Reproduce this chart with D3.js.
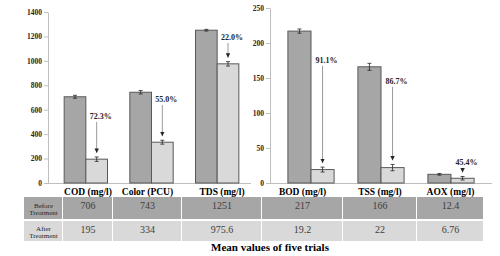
<!DOCTYPE html>
<html>
<head>
<meta charset="utf-8">
<script src="https://cdn.jsdelivr.net/npm/d3@7"></script>
<style>
  html, body { margin: 0; padding: 0; background: #fff; }
  svg { display: block; }
</style>
</head>
<body>
<div id="chart"></div>
<script>
const categories = ["COD (mg/l)", "Color (PCU)", "TDS (mg/l)", "BOD (mg/l)", "TSS (mg/l)", "AOX (mg/l)"];
const beforeValues = [706, 743, 1251, 217, 166, 12.4];
const afterValues = [195, 334, 975.6, 19.2, 22, 6.76];
const beforeErrors = [12, 14, 7, 3, 5, 1.2];
const afterErrors = [18, 16, 18, 3.5, 4.5, 2.5];
const reductions = ["72.3%", "55.0%", "22.0%", "91.1%", "86.7%", "45.4%"];
// where each percentage label sits, in the panel's own units
const labelLevels = [549, 688, 1196, 176, 146, 30];
const leftTicks = [0, 200, 400, 600, 800, 1000, 1200, 1400];
const rightTicks = [0, 50, 100, 150, 200, 250];
const beforeCells = ["706", "743", "1251", "217", "166", "12.4"];
const afterCells = ["195", "334", "975.6", "19.2", "22", "6.76"];
const rowLabels = [["Before", "Treatment"], ["After", "Treatment"]];
const tableEdges = [24, 63, 113, 182, 262, 343, 417, 484];

const width = 500;
const height = 256;
const serif = "'Liberation Serif', 'Times New Roman', serif";
const darkFill = "#a6a6a6";
const lightFill = "#d9d9d9";
const barStroke = "#595959";

const svg = d3.select("#chart").append("svg")
  .attr("width", width)
  .attr("height", height);

svg.append("defs").append("marker")
  .attr("id", "head")
  .attr("viewBox", "0 0 10 10")
  .attr("refX", 10)
  .attr("refY", 5)
  .attr("markerWidth", 4.5)
  .attr("markerHeight", 4.5)
  .attr("markerUnits", "userSpaceOnUse")
  .attr("orient", "auto")
  .append("path")
  .attr("d", "M0,0L10,5L0,10Z")
  .attr("fill", "#262626");

const panels = [
  { idx: [0, 1, 2], ticks: leftTicks, topY: 12, axisX: 48, xRange: [53, 250], axisEnd: 251 },
  { idx: [3, 4, 5], ticks: rightTicks, topY: 8, axisX: 270, xRange: [276, 486], axisEnd: 492 }
];
const baseY = 183;

panels.forEach((panel) => {
  const y = d3.scaleLinear().domain([0, d3.max(panel.ticks)]).range([baseY, panel.topY]);
  const x = d3.scaleBand()
    .domain(panel.idx)
    .range(panel.xRange)
    .paddingInner(0.34)
    .paddingOuter(0.17);
  const sub = d3.scaleBand().domain(["before", "after"]).range([0, x.bandwidth()]);

  const axis = svg.append("g")
    .attr("transform", `translate(${panel.axisX},0)`)
    .call(d3.axisLeft(y).tickValues(panel.ticks).tickFormat(d3.format("d"))
      .tickSize(4).tickPadding(2).tickSizeOuter(0));
  axis.select(".domain").attr("stroke", "#bfbfbf");
  axis.selectAll(".tick line").attr("stroke", "#bfbfbf");
  axis.selectAll("text")
    .attr("fill", "#262626")
    .style("font-family", serif)
    .style("font-weight", "bold")
    .style("font-size", "7.5px");

  svg.append("line")
    .attr("x1", panel.axisX).attr("x2", panel.axisEnd)
    .attr("y1", baseY + 0.5).attr("y2", baseY + 0.5)
    .attr("stroke", "#bfbfbf");

  panel.idx.forEach((i) => {
    const groupX = x(i);
    [["before", beforeValues[i], beforeErrors[i], darkFill], ["after", afterValues[i], afterErrors[i], lightFill]]
      .forEach(([key, value, err, fill]) => {
        const bx = groupX + sub(key);
        svg.append("rect")
          .attr("x", bx)
          .attr("y", y(value))
          .attr("width", sub.bandwidth())
          .attr("height", baseY - y(value))
          .attr("fill", fill)
          .attr("stroke", barStroke)
          .attr("stroke-width", 1);
        const cx = bx + sub.bandwidth() / 2;
        const e = svg.append("g").attr("stroke", "#262626").attr("stroke-width", 0.8);
        e.append("line").attr("x1", cx).attr("x2", cx).attr("y1", y(value + err)).attr("y2", y(value - err));
        e.append("line").attr("x1", cx - 2).attr("x2", cx + 2).attr("y1", y(value + err)).attr("y2", y(value + err));
        e.append("line").attr("x1", cx - 2).attr("x2", cx + 2).attr("y1", y(value - err)).attr("y2", y(value - err));
      });

    const ax = groupX + sub("after") + sub.bandwidth() / 2;
    const labelY = y(labelLevels[i]);
    svg.append("text")
      .attr("x", ax + 4)
      .attr("y", labelY + 3)
      .attr("text-anchor", "middle")
      .attr("fill", "#262626")
      .style("font-family", serif)
      .style("font-weight", "bold")
      .style("font-size", "8px")
      .text(reductions[i]);
    svg.append("line")
      .attr("x1", ax).attr("x2", ax)
      .attr("y1", labelY + 6)
      .attr("y2", y(afterValues[i] + afterErrors[i]) - 4)
      .attr("stroke", "#7f7f7f")
      .attr("stroke-width", 0.8)
      .attr("marker-end", "url(#head)");
  });
});

// table under the bars
const rows = [
  { top: 197, bottom: 219, fill: darkFill, cells: beforeCells, label: rowLabels[0] },
  { top: 221, bottom: 241, fill: lightFill, cells: afterCells, label: rowLabels[1] }
];

categories.forEach((cat, i) => {
  svg.append("text")
    .attr("x", (tableEdges[i + 1] + tableEdges[i + 2]) / 2)
    .attr("y", 195)
    .attr("text-anchor", "middle")
    .attr("fill", "#000")
    .style("font-family", serif)
    .style("font-weight", "bold")
    .style("font-size", "9.5px")
    .text(cat);
});

rows.forEach((row) => {
  for (let c = 0; c < tableEdges.length - 1; c++) {
    svg.append("rect")
      .attr("x", tableEdges[c])
      .attr("y", row.top)
      .attr("width", tableEdges[c + 1] - tableEdges[c] - 1)
      .attr("height", row.bottom - row.top)
      .attr("fill", row.fill);
  }
  const mid = (row.top + row.bottom) / 2;
  row.label.forEach((line, k) => {
    svg.append("text")
      .attr("x", (tableEdges[0] + tableEdges[1]) / 2)
      .attr("y", mid - 0.5 + k * 7.5)
      .attr("text-anchor", "middle")
      .attr("fill", "#262626")
      .style("font-family", serif)
      .style("font-size", "7px")
      .text(line);
  });
  row.cells.forEach((v, i) => {
    svg.append("text")
      .attr("x", (tableEdges[i + 1] + tableEdges[i + 2]) / 2)
      .attr("y", row.top + 12)
      .attr("text-anchor", "middle")
      .attr("fill", "#404040")
      .style("font-family", serif)
      .style("font-size", "10px")
      .text(v);
  });
});

svg.append("text")
  .attr("x", 270)
  .attr("y", 251)
  .attr("text-anchor", "middle")
  .attr("fill", "#000")
  .style("font-family", serif)
  .style("font-weight", "bold")
  .style("font-size", "11px")
  .text("Mean values of five trials");
</script>
</body>
</html>
